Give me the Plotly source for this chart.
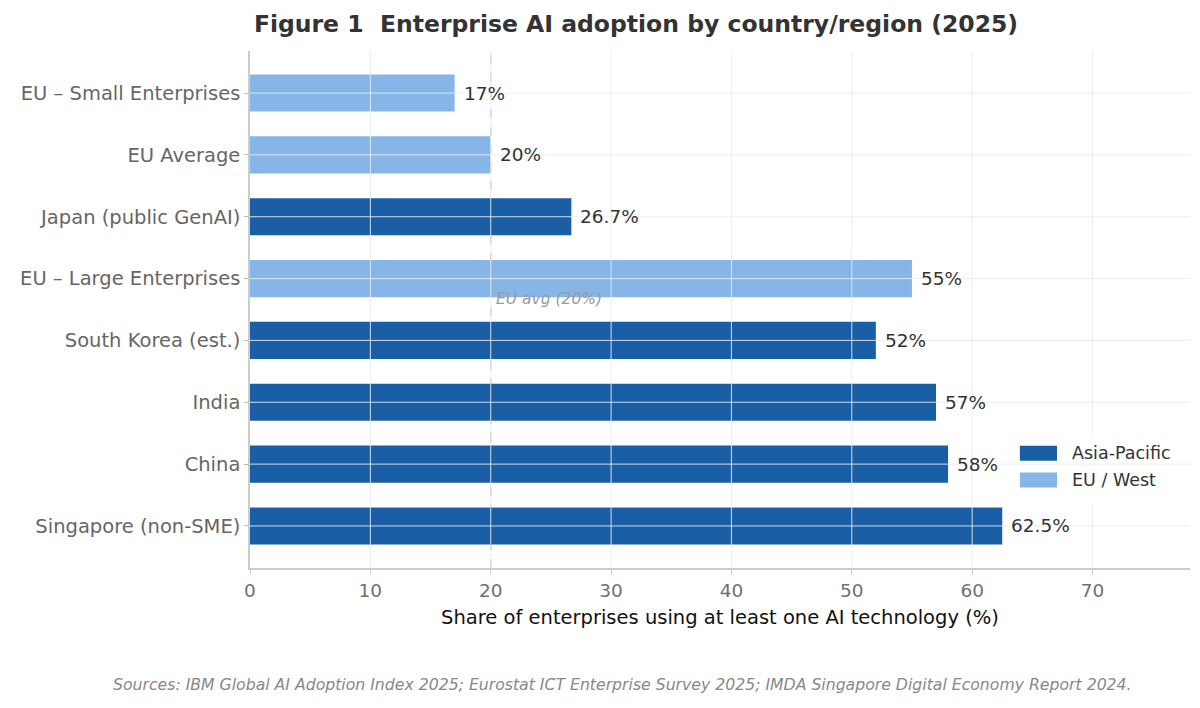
import plotly.graph_objects as go

# ---- data ----
categories = ["EU – Small Enterprises", "EU Average", "Japan (public GenAI)",
              "EU – Large Enterprises", "South Korea (est.)", "India", "China",
              "Singapore (non-SME)"]
values = [17, 20, 26.7, 55, 52, 57, 58, 62.5]
groups = ["EU / West", "EU / West", "Asia-Pacific", "EU / West",
          "Asia-Pacific", "Asia-Pacific", "Asia-Pacific", "Asia-Pacific"]
legend_groups = ["Asia-Pacific", "EU / West"]
x_ticks = [0, 10, 20, 30, 40, 50, 60, 70]
eu_avg = 20

colors = {"Asia-Pacific": "#1A5EA6", "EU / West": "#86B6E8"}
FONT = "DejaVu Sans"

fig = go.Figure()
for g in legend_groups:
    ys = [c for c, gg in zip(categories, groups) if gg == g]
    xs = [v for v, gg in zip(values, groups) if gg == g]
    fig.add_trace(go.Bar(x=xs, y=ys, orientation="h", name=g,
                         marker=dict(color=colors[g], line=dict(width=0)),
                         width=0.6, showlegend=False))

# value labels
for c, v in zip(categories, values):
    fig.add_annotation(x=v, y=c, text=f"{v:g}%", showarrow=False,
                       xanchor="left", yanchor="middle", xshift=7,
                       font=dict(family=FONT, size=18.5, color="#333333"))

# EU average line (below bars)
fig.add_shape(type="line", x0=eu_avg, x1=eu_avg, y0=0, y1=1, xref="x", yref="paper",
              line=dict(color="#aaaaaa", width=1.2, dash="dash"), layer="below")
fig.add_annotation(x=eu_avg, y=categories[3], text="<i>EU avg (20%)</i>", showarrow=False,
                   xanchor="left", yanchor="top", xshift=3, yshift=-9,
                   font=dict(family=FONT, size=15.5, color="#999999"))

# grid lines drawn above bars
gridc = "rgba(232,236,240,0.9)"
for t in x_ticks[1:]:
    fig.add_shape(type="line", x0=t, x1=t, y0=0, y1=1, xref="x", yref="paper",
                  line=dict(color=gridc, width=1), layer="above")

# legend background
fig.add_shape(type="rect", x0=0.8085, x1=0.989, y0=0.122, y1=0.253,
              xref="paper", yref="paper", fillcolor="rgba(255,255,255,0.85)",
              line=dict(width=0), layer="above")

for c in categories:
    fig.add_shape(type="line", x0=0, x1=1, y0=c, y1=c, xref="paper", yref="y",
                  line=dict(color=gridc, width=1), layer="above")

# custom legend (wide swatches)
leg_y = [0.222, 0.170]
for g, yy in zip(legend_groups, leg_y):
    fig.add_shape(type="rect", x0=0.819, x1=0.8585, y0=yy - 0.0145, y1=yy + 0.0145,
                  xref="paper", yref="paper", fillcolor=colors[g],
                  line=dict(width=0), layer="above")
    fig.add_annotation(x=0.872, y=yy, xref="paper", yref="paper", text=g,
                       showarrow=False, xanchor="left", yanchor="middle",
                       font=dict(family=FONT, size=17.5, color="#333333"))

# footnote
fig.add_annotation(x=0.396, y=-0.226, xref="paper", yref="paper", yanchor="middle",
                   xanchor="center",
                   text="<i>Sources: IBM Global AI Adoption Index 2025; Eurostat ICT Enterprise Survey 2025; IMDA Singapore Digital Economy Report 2024.</i>",
                   showarrow=False, font=dict(family=FONT, size=15.7, color="#888888"))

fig.update_layout(
    width=1200, height=708,
    margin=dict(l=250, r=10, t=51, b=140),
    paper_bgcolor="white", plot_bgcolor="white",
    barmode="overlay", showlegend=False,
    font=dict(family=FONT, size=17, color="#333333"),
    title=dict(text="<b>Figure 1\u00a0 Enterprise AI adoption by country/region (2025)</b>",
               x=0.53, xanchor="center", y=0.966, yanchor="middle",
               font=dict(family=FONT, size=23.5, color="#333333")),
    xaxis=dict(range=[0, 78.1], tickvals=x_ticks, showgrid=False, zeroline=False,
               showline=True, linecolor="#cccccc", linewidth=1.5,
               ticks="outside", ticklen=5, tickcolor="#cccccc",
               tickfont=dict(family=FONT, size=18.5, color="#707070"),
               title=dict(text="Share of enterprises using at least one AI technology (%)",
                          font=dict(family=FONT, size=19.5, color="#111111"), standoff=10)),
    yaxis=dict(type="category", categoryorder="array", categoryarray=categories,
               range=[7.68, -0.68], showgrid=False, zeroline=False,
               showline=True, linecolor="#cccccc", linewidth=1.5,
               ticks="outside", ticklen=4, tickcolor="#bbbbbb",
               tickfont=dict(family=FONT, size=19.5, color="#666666")),
)

fig.write_html("out.html")
